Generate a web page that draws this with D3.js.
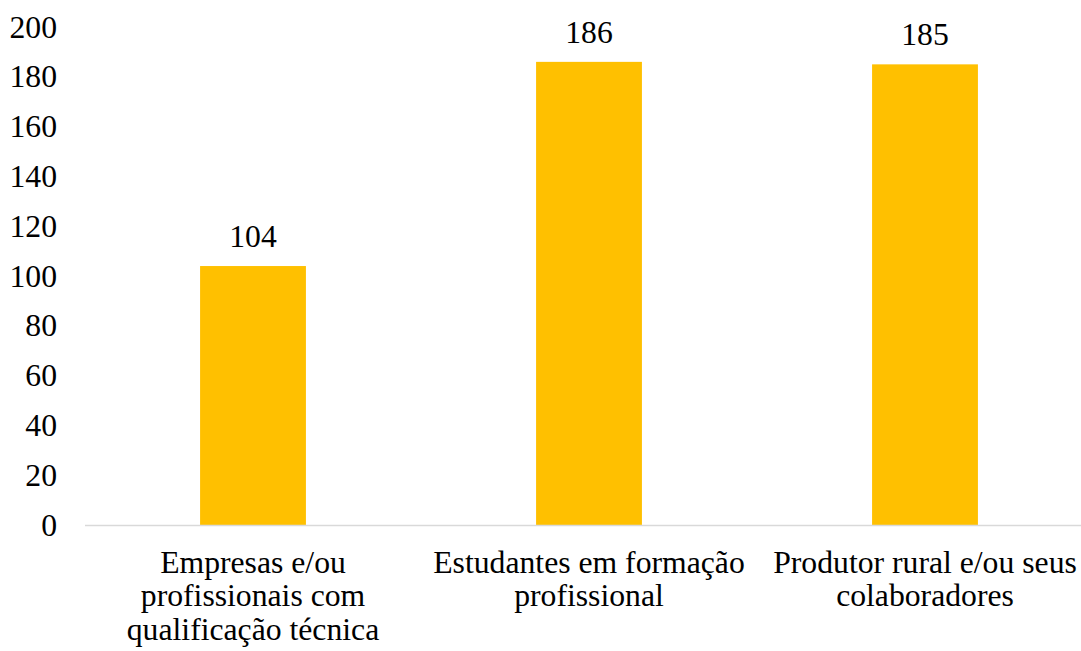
<!DOCTYPE html>
<html>
<head>
<meta charset="utf-8">
<script src="https://cdn.jsdelivr.net/npm/d3@7"></script>
<style>
  body { margin: 0; background: #fff; }
</style>
</head>
<body>
<div id="chart"></div>
<script>
// categories (one entry per line of the wrapped label) and values
var categories = ["Empresas e/ou profissionais com qualificação técnica",
                  "Estudantes em formação profissional",
                  "Produtor rural e/ou seus colaboradores"];
var categoryLines = [
  ["Empresas e/ou", "profissionais com", "qualificação técnica"],
  ["Estudantes em formação", "profissional"],
  ["Produtor rural e/ou seus", "colaboradores"]
];
var values = [104, 186, 185];
var yTicks = [0, 20, 40, 60, 80, 100, 120, 140, 160, 180, 200];

var svgWidth = 1081;
var svgHeight = 651;
var fontFam = "'Liberation Serif', 'Times New Roman', serif";
var fontSize = "31.7px";

var margin = { top: 27, right: -12, bottom: 126, left: 85 };
var width = svgWidth - margin.left - margin.right;
var height = svgHeight - margin.top - margin.bottom;

var svg = d3.select("#chart")
  .append("svg")
  .attr("width", svgWidth)
  .attr("height", svgHeight);

var chartGroup = svg.append("g")
  .attr("transform", `translate(${margin.left}, ${margin.top})`);

var xScale = d3.scaleBand()
  .domain(categories)
  .range([0, width])
  .paddingInner(0.685)
  .paddingOuter(0.685 / 2);

var yScale = d3.scaleLinear()
  .domain([0, 200])
  .range([height, 0]);

// y axis labels, no line / ticks
var yAxis = chartGroup.append("g")
  .call(d3.axisLeft(yScale).tickValues(yTicks).tickSize(0).tickPadding(28));
yAxis.select(".domain").remove();
yAxis.attr("font-family", null).attr("font-size", null);
yAxis.selectAll("text")
  .style("font-family", fontFam)
  .style("font-size", fontSize)
  .attr("fill", "#000");

// bars
chartGroup.selectAll("rect.bar")
  .data(values)
  .enter()
  .append("rect")
  .attr("class", "bar")
  .attr("x", (d, i) => xScale(categories[i]))
  .attr("y", d => yScale(d))
  .attr("width", xScale.bandwidth())
  .attr("height", d => height - yScale(d))
  .attr("fill", "#FFC000");

// baseline
chartGroup.append("line")
  .attr("x1", 0)
  .attr("x2", width)
  .attr("y1", height + 0.5)
  .attr("y2", height + 0.5)
  .attr("stroke", "#d9d9d9")
  .attr("stroke-width", 1.5);

// value labels
chartGroup.selectAll("text.val")
  .data(values)
  .enter()
  .append("text")
  .attr("class", "val")
  .attr("text-anchor", "middle")
  .attr("x", (d, i) => xScale(categories[i]) + xScale.bandwidth() / 2)
  .attr("y", d => yScale(d) - 19)
  .style("font-family", fontFam)
  .style("font-size", fontSize)
  .text(d => d);

// category labels
categoryLines.forEach(function(lines, i) {
  var cx = xScale(categories[i]) + xScale.bandwidth() / 2;
  chartGroup.append("text")
    .attr("text-anchor", "middle")
    .style("font-family", fontFam)
    .style("font-size", fontSize)
    .selectAll("tspan")
    .data(lines)
    .enter()
    .append("tspan")
    .attr("x", cx)
    .attr("y", (d, j) => height + 48 + j * 33.3)
    .text(d => d);
});
</script>
</body>
</html>
